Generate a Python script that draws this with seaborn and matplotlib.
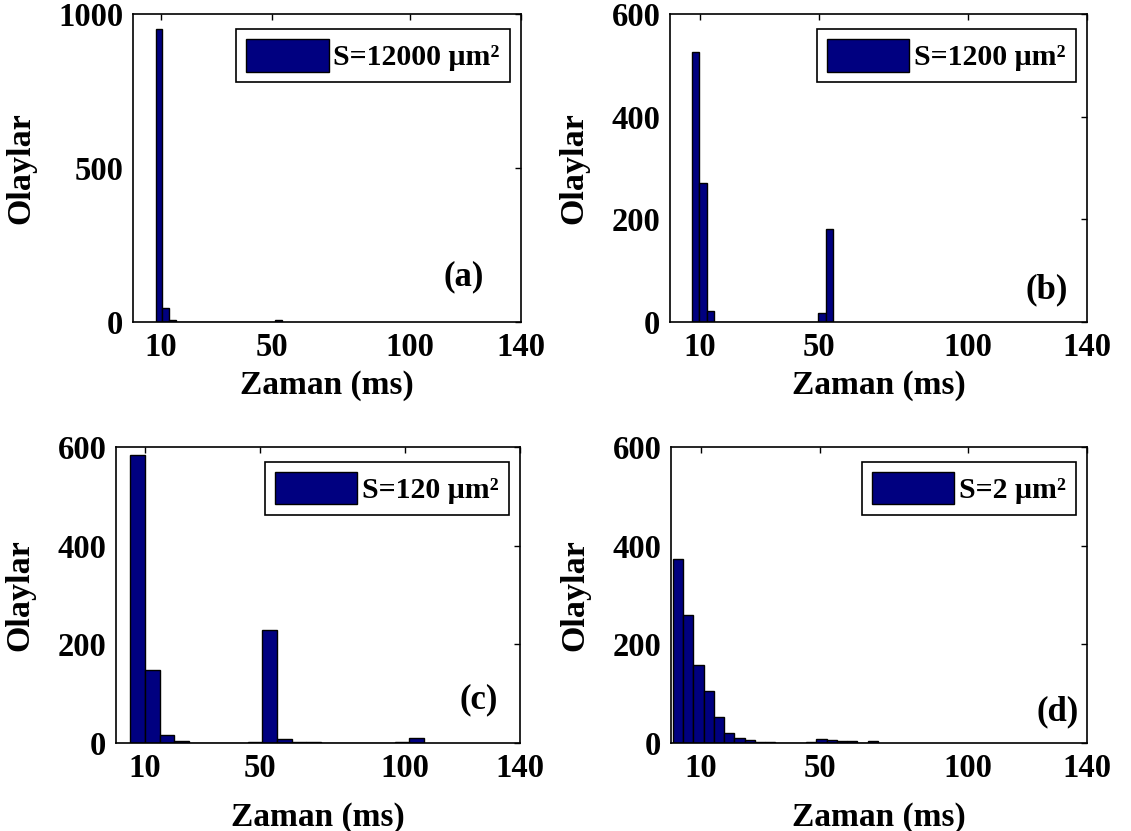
import numpy as np
import pandas as pd
import matplotlib
matplotlib.use("Agg")
import matplotlib.pyplot as plt
import seaborn as sns

# Event-duration histograms for four membrane surface areas
panel_tags = ["(a)", "(b)", "(c)", "(d)"]
area_labels = ["S=12000 μm²", "S=1200 μm²", "S=120 μm²", "S=2 μm²"]

# first bin edge and bin width (ms) of each histogram
bin_start = [8.2, 7.3, 4.9, 0.6]
bin_width = [2.4, 2.5, 5.09, 3.45]

# event counts per bin
counts_a = [952, 47, 6, 0, 0, 0, 0, 0, 0, 0, 0, 0, 0, 0, 0, 0, 0, 0, 5]
counts_b = [525, 271, 21, 0, 0, 0, 0, 0, 0, 0, 0, 0, 0, 0, 0, 0, 0, 17, 181]
counts_c = [584, 147, 16, 4, 0, 0, 0, 0, 3, 230, 8, 3, 3, 0, 0, 0, 0, 0, 3, 11]
counts_d = [373, 259, 158, 105, 52, 20, 11, 7, 3, 3, 0, 0, 0, 3, 8, 7, 4, 4, 0, 4]
all_counts = [counts_a, counts_b, counts_c, counts_d]

x_ticks = [10, 50, 100, 140]
y_limits = [1000, 600, 600, 600]
y_ticks = [[0, 500, 1000], [0, 200, 400, 600], [0, 200, 400, 600], [0, 200, 400, 600]]

sns.set_style("white")
plt.rcParams["font.family"] = ["Liberation Serif", "DejaVu Serif"]
plt.rcParams["font.weight"] = "bold"
plt.rcParams["axes.labelweight"] = "bold"
plt.rcParams["text.color"] = "black"
plt.rcParams["axes.labelcolor"] = "black"
plt.rcParams["xtick.color"] = "black"
plt.rcParams["ytick.color"] = "black"

W, H = 1131, 831
fig = plt.figure(figsize=(W / 100, H / 100), dpi=100)

# axes boxes in pixels: left, top, right, bottom
boxes = [(133, 14, 521, 322), (670, 14, 1087, 322),
         (116, 447, 520, 743), (671, 447, 1087, 743)]
tag_pos = [(0.853, 0.146), (0.904, 0.104), (0.898, 0.145), (0.930, 0.105)]
xlabel_pad = [5, 5, 13, 13]

bar_color = "#000080"

for i in range(4):
    l, t, r, b = boxes[i]
    aw, ah = r - l, b - t
    ax = fig.add_axes([l / W, 1 - b / H, aw / W, ah / H])
    counts = [float(c) for c in all_counts[i]]
    edges = [bin_start[i] + bin_width[i] * k for k in range(len(counts) + 1)]
    centers = [(edges[k] + edges[k + 1]) / 2 for k in range(len(counts))]
    df = pd.DataFrame({"Zaman": centers, "n": counts})
    sns.histplot(data=df, x="Zaman", weights="n", bins=edges, ax=ax,
                 color=bar_color, edgecolor="black", linewidth=1.0, alpha=1.0)
    ax.set_xlim(0, 140)
    ax.set_ylim(0, y_limits[i])
    ax.set_xticks(x_ticks)
    ax.set_yticks(y_ticks[i])
    ax.tick_params(direction="in", top=True, right=True, length=4, width=1,
                   labelsize=23.5, pad=7, colors="black")
    for lab in ax.get_xticklabels() + ax.get_yticklabels():
        lab.set_fontweight("bold")
    for sp in ax.spines.values():
        sp.set_visible(True)
        sp.set_color("black")
        sp.set_linewidth(1.2)
    ax.set_xlabel("Zaman (ms)", fontsize=24, fontweight="bold", labelpad=xlabel_pad[i])
    ax.set_ylabel("Olaylar", fontsize=24.5, fontweight="bold", labelpad=16)
    ax.text(tag_pos[i][0], tag_pos[i][1], panel_tags[i], transform=ax.transAxes,
            ha="center", va="center", fontsize=25, fontweight="bold")
    leg = ax.legend([ax.patches[0]], [area_labels[i]], loc="upper right",
                    bbox_to_anchor=(1 - 11 / aw, 1 - 14.5 / ah),
                    fancybox=False, framealpha=1, edgecolor="black",
                    prop={"size": 21.5, "weight": "bold"},
                    handlelength=2.75, handleheight=1.3, handletextpad=0.15,
                    borderpad=0.35, borderaxespad=0)
    leg.get_frame().set_linewidth(1.2)

fig.savefig("out.png", dpi=100)
